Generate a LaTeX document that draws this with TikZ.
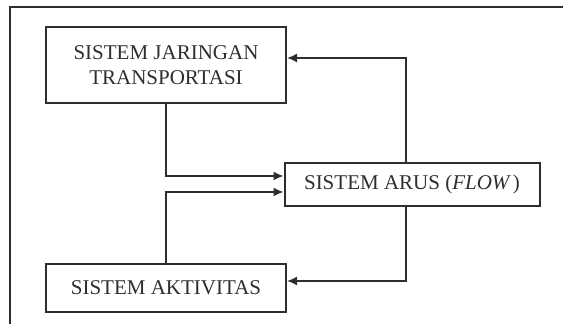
\documentclass[tikz,border=0pt]{standalone}
\usepackage{fontspec}
\setmainfont{Liberation Serif}
\usepackage{xcolor}
\usetikzlibrary{arrows.meta,calc}
\definecolor{ink}{HTML}{2E2E2E}
\tikzset{
  sistem/.style={
    draw = ink,
    line width = 1pt,
    text = ink,
    align = center,
    inner sep = 0pt,
    font = \fontsize{10.5}{12.5}\selectfont
  },
  flow/.style={
    draw = ink,
    line width = 0.8pt,
    -{Latex[length=5pt,width=4.5pt]}
  },
  every picture/.style = {
    x = 0.5pt,
    y = -0.5pt
  }
}
\begin{document}
\begin{tikzpicture}
        \useasboundingbox (0,0) rectangle (563,324);
        \draw[ink, line width=0.8pt] (563,7)--(10,7)--(10,324);
        \node[sistem, minimum width=120pt, minimum height=38pt] (jaringan) at (166,65) {SISTEM JARINGAN\\TRANSPORTASI};
        \node[sistem, minimum width=127.5pt, minimum height=21.5pt] (arus) at (412,184.5) {SISTEM ARUS (\textit{FLOW\,})};
        \node[sistem, minimum width=120pt, minimum height=24pt] (aktivitas) at (166,288) {SISTEM AKTIVITAS};
        \coordinate (balik) at (406,0);
        % masuk ke sistem arus
        \draw[flow] (jaringan.south) |- ([yshift=4.25pt]arus.west);
        \draw[flow] (aktivitas.north) |- ([yshift=-3.75pt]arus.west);
        % umpan balik
        \draw[flow] (arus.north -| balik) |- ([yshift=3.5pt]jaringan.east);
        \draw[flow] (arus.south -| balik) |- ([yshift=3.5pt]aktivitas.east);
    \end{tikzpicture}
\end{document}
